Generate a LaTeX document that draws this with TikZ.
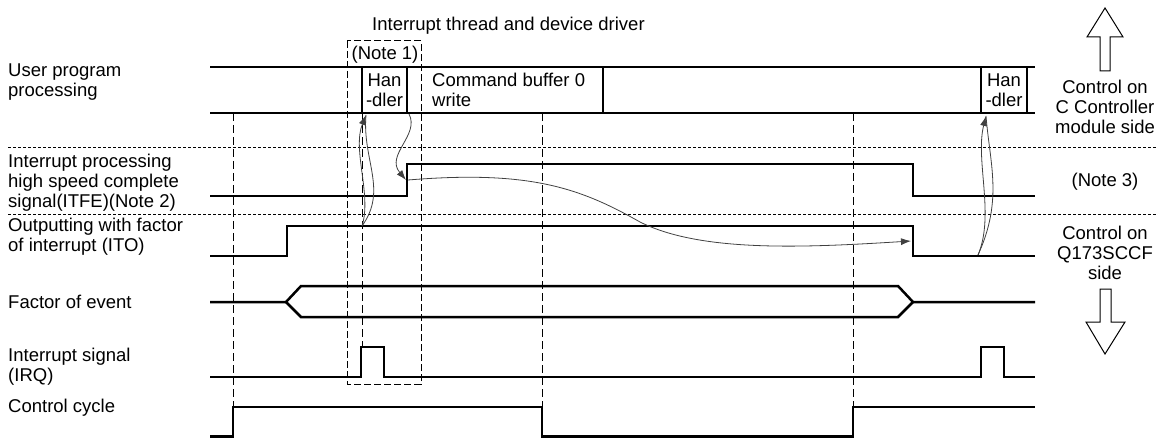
\documentclass[tikz,border=0pt]{standalone}
\usepackage{fontspec}
\setmainfont{Liberation Sans}
\usetikzlibrary{arrows.meta}
\begin{document}
\begin{tikzpicture}[x=1pt,y=-1pt,
  sig/.style={line width=2.5pt, line join=miter},
  vdash/.style={line width=1pt, dash pattern=on 8pt off 4pt},
  sep/.style={line width=0.9pt, dash pattern=on 3pt off 2pt},
  notebox/.style={line width=1pt, dash pattern=on 7pt off 3pt},
  curve/.style={line width=0.8pt, draw=black!75},
  tip/.style={-{Latex[length=10pt,width=7pt]}},
  lbl/.style={font=\fontsize{18.5}{20}\selectfont, inner sep=0pt, align=left},
  hollow/.style={line width=1pt, fill=white},
]
\useasboundingbox (0,0) rectangle (1158,438);

% labels
\node[lbl, anchor=west] (lUser) at (8,82) {User program\\processing};
\node[lbl, anchor=west] (lITFE) at (8,183) {Interrupt processing\\high speed complete\\signal(ITFE)(Note 2)};
\node[lbl, anchor=west] (lITO) at (8,237) {Outputting with factor\\of interrupt (ITO)};
\node[lbl, anchor=west] (lFac) at (8,302) {Factor of event};
\node[lbl, anchor=west] (lIRQ) at (8,367) {Interrupt signal\\(IRQ)};
\node[lbl, anchor=west] (lCyc) at (8,408) {Control cycle};

\node[lbl, anchor=west] (cap) at (372,26) {Interrupt thread and device driver};
\node[lbl] (n1) at (385,55) {(Note 1)};
\node[lbl, align=center] (h1) at (384.5,90) {Han\\-dler};
\node[lbl, anchor=west] (cb) at (432,90) {Command buffer 0\\write};
\node[lbl, align=center] (h2) at (1004,90) {Han\\-dler};

\node[lbl, align=center] (rc1) at (1105,107) {Control on\\C Controller\\module side};
\node[lbl] (n3) at (1105,182) {(Note 3)};
\node[lbl, align=center] (rc2) at (1105,253) {Control on\\Q173SCCF\\side};

% separators
\draw[sep] (8,147) -- (1158,147);
\draw[sep] (8,214) -- (1158,214);

% dashed verticals
\draw[vdash] (233,113) -- (233,407);
\draw[vdash] (362,113) -- (362,347);
\draw[vdash] (542,113) -- (542,437);
\draw[vdash] (853,113) -- (853,407);
\draw[notebox] (347,41) rectangle (421,384);

% user program row
\draw[sig] (210,67) -- (1035,67);
\draw[sig] (210,113) -- (1035,113);
\draw[sig] (362,67) -- (362,113);
\draw[sig] (407,67) -- (407,113);
\draw[sig] (603,67) -- (603,113);
\draw[sig] (981,67) -- (981,113);
\draw[sig] (1027,67) -- (1027,113);

% ITFE
\draw[sig] (210,196) -- (407,196) -- (407,164) -- (913,164) -- (913,196) -- (1035,196);
% ITO
\draw[sig] (210,256) -- (287,256) -- (287,226) -- (913,226) -- (913,256) -- (1035,256);
% factor of event
\draw[sig] (210,302) -- (286,302) -- (301,286) -- (898,286) -- (913,302) -- (1035,302);
\draw[sig] (286,302) -- (301,317) -- (898,317) -- (913,302);
% IRQ
\draw[sig] (210,377) -- (361,377) -- (361,347) -- (384,347) -- (384,377) -- (981,377) -- (981,347) -- (1004,347) -- (1004,377) -- (1035,377);
% control cycle
\draw[sig] (210,436.5) -- (233,436.5) -- (233,407) -- (542,407) -- (542,436.5) -- (853,436.5) -- (853,407) -- (1035,407);

% curves
\coordinate (itoA) at (362,226);
\coordinate (h1b) at (366,115);
\coordinate (h1r) at (409,114);
\coordinate (itfeR) at (406,180);
\coordinate (itfeS) at (408,180);
\coordinate (itoF) at (911,241);
\coordinate (itoB) at (978,255);
\coordinate (h2b) at (986,116);

\draw[curve, tip] (itoA) .. controls (372,195) and (352,150) .. (h1b);
\draw[curve] (itoA) .. controls (388,190) and (362,160) .. (h1b);
\draw[curve, tip] (h1r) .. controls (420,135) and (385,155) .. (itfeR);
\draw[curve, tip] (itfeS) .. controls (530,170) and (580,188) .. (640,222) .. controls (700,252) and (800,248) .. (itoF);
\draw[curve, tip] (itoB) .. controls (995,215) and (975,160) .. (h2b);
\draw[curve] (itoB) .. controls (1003,200) and (990,165) .. (h2b);

% hollow arrows
\draw[hollow] (1105,8) -- (1123,37) -- (1110,37) -- (1110,71) -- (1100,71) -- (1100,37) -- (1087,37) -- cycle;
\draw[hollow] (1105,354) -- (1125,322) -- (1111,322) -- (1111,289) -- (1100,289) -- (1100,322) -- (1086,322) -- cycle;
\end{tikzpicture}
\end{document}
